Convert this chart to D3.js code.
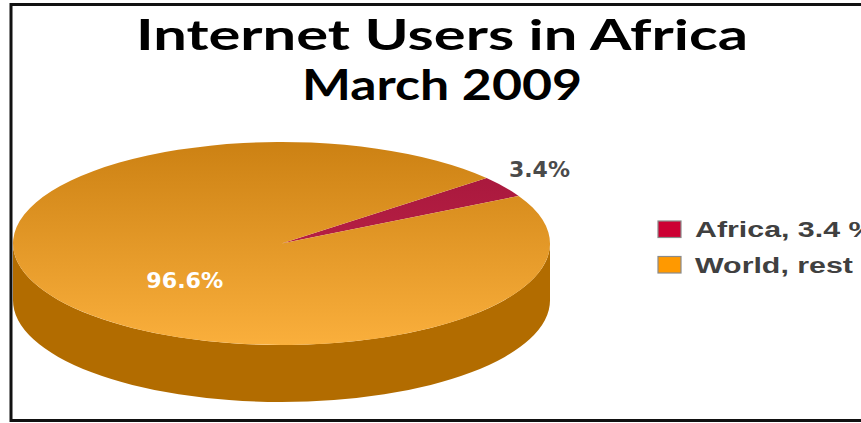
<!DOCTYPE html>
<html>
<head>
<meta charset="utf-8">
<script src="https://cdn.jsdelivr.net/npm/d3@7"></script>
<style>
  html, body { margin: 0; padding: 0; background: #fff; }
  svg { display: block; }
</style>
</head>
<body>
<svg id="chart" width="861" height="423"></svg>
<script>
// Chart data
const titleLines = ["Internet Users in Africa", "March 2009"];
const categories = ["Africa, 3.4 %", "World, rest"];
const shares = [3.4, 96.6];
const shareLabels = ["3.4%", "96.6%"];
const legendColors = ["#CC0033", "#FF9900"];
const topColors = [["#A3163A", "#C8264E"], ["#CC8113", "#FAAF3C"]];
const sideColors = ["#8E1030", "#B26C00"];
const labelColors = ["#4a4a4a", "#ffffff"];

const W = 861, H = 423;
const svg = d3.select("#chart");

// Outer frame
svg.append("rect")
  .attr("x", 11).attr("y", 4.5)
  .attr("width", 900).attr("height", 416)
  .attr("fill", "#fff")
  .attr("stroke", "#111").attr("stroke-width", 3);

// Title, two lines, centred
const titleX = 442;
const titleBase = [49.5, 99.5];
const titleWidths = [612, 280];
titleLines.forEach((t, i) => {
  svg.append("text")
    .attr("x", titleX).attr("y", titleBase[i])
    .attr("text-anchor", "middle")
    .attr("font-family", "Lato, 'Open Sans', sans-serif")
    .attr("font-weight", 700)
    .attr("font-size", 42)
    .attr("fill", "#000")
    .attr("textLength", titleWidths[i])
    .attr("lengthAdjust", "spacingAndGlyphs")
    .text(t);
});

// 3D pie geometry
const cx = 281.5, cy = 243.5, rx = 268.5, ry = 101.5, depth = 57;
const start = 49.8 * Math.PI / 180;

const pie = d3.pie().sort(null).value(d => d)
  .startAngle(start).endAngle(start + 2 * Math.PI);
const arcs = pie(shares);

const pt = (a, dy = 0) => [cx + rx * Math.sin(a), cy - ry * Math.cos(a) + dy];

function topPath(a0, a1) {
  const p0 = pt(a0), p1 = pt(a1);
  const large = (a1 - a0) > Math.PI ? 1 : 0;
  return `M${cx},${cy}L${p0[0]},${p0[1]}A${rx},${ry} 0 ${large} 1 ${p1[0]},${p1[1]}Z`;
}

function wallPaths(a0, a1) {
  const out = [];
  for (const k of [0, 2 * Math.PI]) {
    const lo = Math.max(a0, Math.PI / 2 + k);
    const hi = Math.min(a1, 3 * Math.PI / 2 + k);
    if (hi > lo) {
      const p0 = pt(lo), p1 = pt(hi), q1 = pt(hi, depth), q0 = pt(lo, depth);
      out.push(`M${p0[0]},${p0[1]}A${rx},${ry} 0 0 1 ${p1[0]},${p1[1]}` +
               `L${q1[0]},${q1[1]}A${rx},${ry} 0 0 0 ${q0[0]},${q0[1]}Z`);
    }
  }
  return out;
}

// Gradients for the top faces
const defs = svg.append("defs");
topColors.forEach((c, i) => {
  const g = defs.append("linearGradient")
    .attr("id", "topGrad" + i)
    .attr("gradientUnits", "userSpaceOnUse")
    .attr("x1", 0).attr("y1", cy - ry)
    .attr("x2", 0).attr("y2", cy + ry);
  g.append("stop").attr("offset", "0%").attr("stop-color", c[0]);
  g.append("stop").attr("offset", "100%").attr("stop-color", c[1]);
});

const pieG = svg.append("g");

// Side walls (front half only)
arcs.forEach((a, i) => {
  wallPaths(a.startAngle, a.endAngle).forEach(d => {
    pieG.append("path").attr("d", d).attr("fill", sideColors[i]);
  });
});

// Top faces
pieG.selectAll("path.top")
  .data(arcs)
  .join("path")
  .attr("class", "top")
  .attr("d", a => topPath(a.startAngle, a.endAngle))
  .attr("fill", (a, i) => `url(#topGrad${i})`);

// Percentage labels: Africa outside the rim, World inside the face
const labelPos = [
  { f: 1.16, nudge: -1 },
  { f: 0.435, nudge: 20 }
];
arcs.forEach((a, i) => {
  const mid = (a.startAngle + a.endAngle) / 2;
  const x = cx + rx * labelPos[i].f * Math.sin(mid);
  const y = cy - ry * labelPos[i].f * Math.cos(mid) + labelPos[i].nudge;
  svg.append("text")
    .attr("x", x).attr("y", y)
    .attr("text-anchor", "middle")
    .attr("font-family", "'DejaVu Sans', Verdana, sans-serif")
    .attr("font-weight", 700)
    .attr("font-size", 21)
    .attr("fill", labelColors[i])
    .attr("textLength", i === 0 ? 61 : 77)
    .attr("lengthAdjust", "spacingAndGlyphs")
    .text(shareLabels[i]);
});

// Legend
const legend = svg.append("g");
const legX = 658, legY0 = 221, legStep = 35.5;
categories.forEach((c, i) => {
  const y = legY0 + i * legStep;
  legend.append("rect")
    .attr("x", legX).attr("y", y)
    .attr("width", 23).attr("height", 16.5)
    .attr("fill", legendColors[i])
    .attr("stroke", "#8a8a8a").attr("stroke-width", 1.2);
});
const legTexts = categories.map((c, i) =>
  legend.append("text")
    .attr("x", 0).attr("y", 0)
    .attr("font-family", "'Liberation Sans', Arial, sans-serif")
    .attr("font-weight", 700)
    .attr("font-size", 22)
    .attr("fill", "#404040")
    .text(c)
);
// horizontal stretch taken from the "World, rest" entry
const sx = 158 / legTexts[1].node().getComputedTextLength();
legTexts.forEach((t, i) => {
  t.attr("transform", `translate(695,${legY0 + 16 + i * legStep}) scale(${sx},1)`);
});
</script>
</body>
</html>
